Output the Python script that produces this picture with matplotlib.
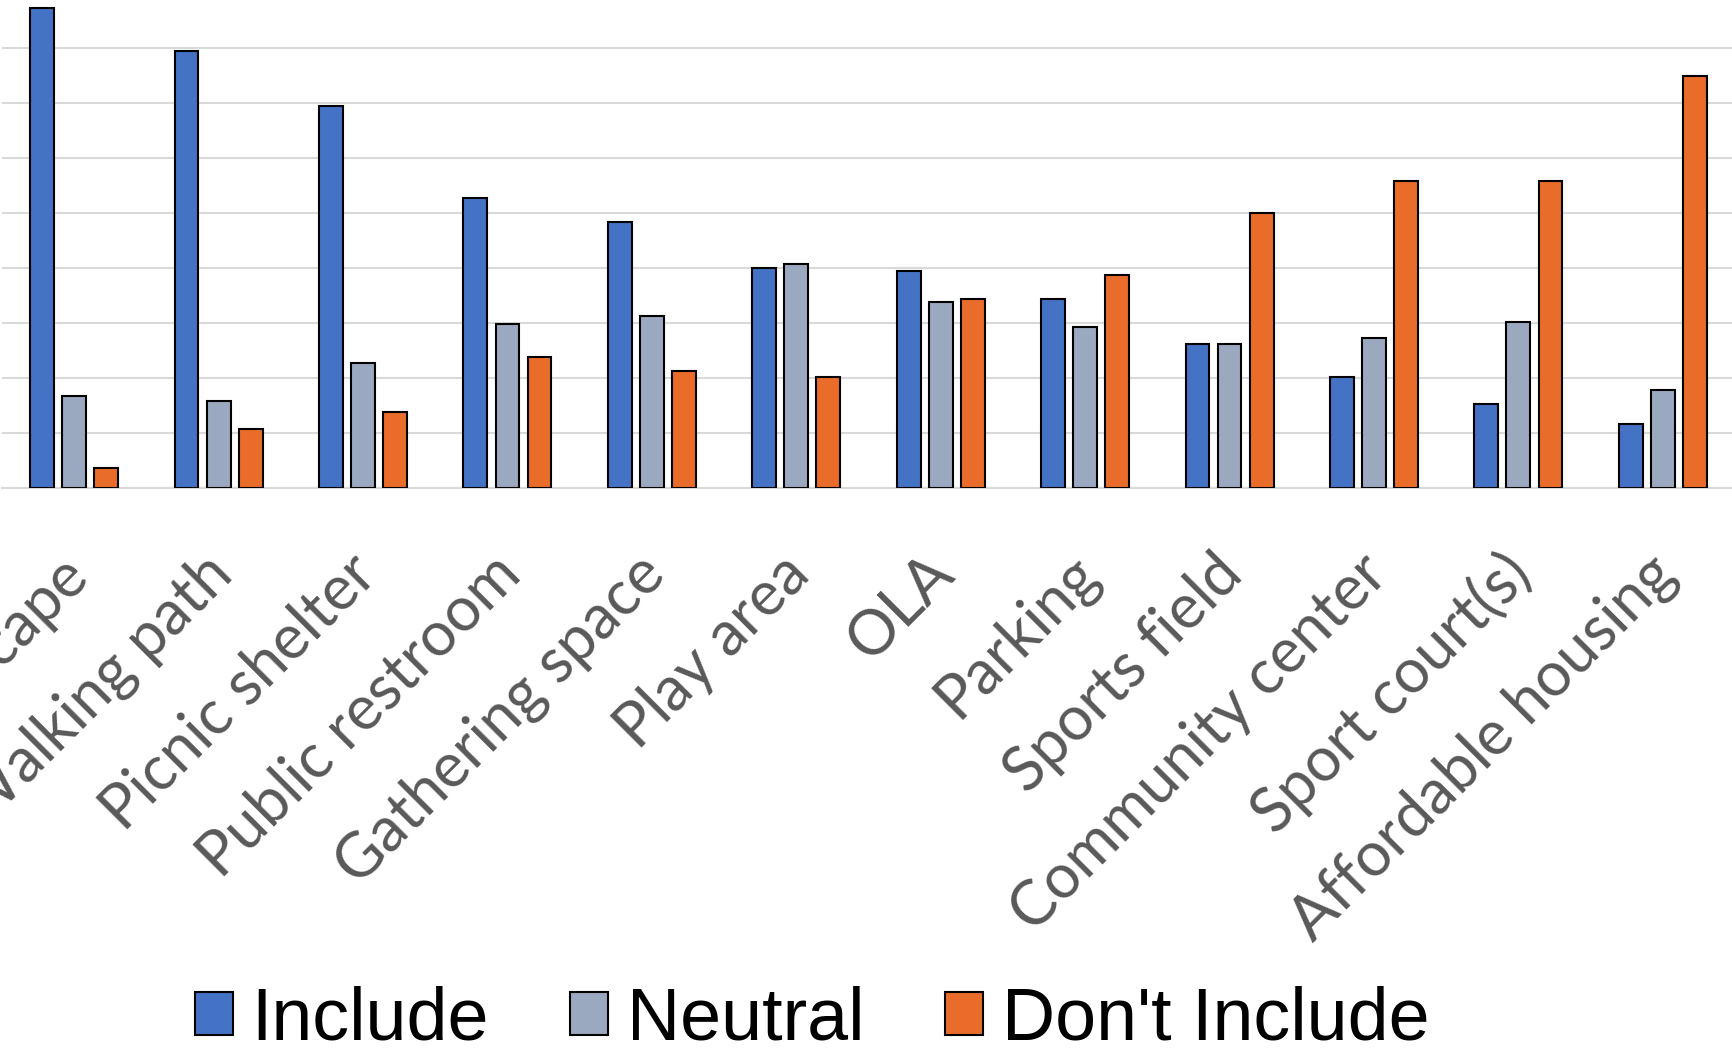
import matplotlib.pyplot as plt
import numpy as np
from matplotlib.transforms import ScaledTranslation
from matplotlib.patches import Patch

categories = ["Landscape", "Walking path", "Picnic shelter", "Public restroom",
              "Gathering space", "Play area", "OLA", "Parking", "Sports field",
              "Community center", "Sport court(s)", "Affordable housing"]
include = [43.6, 39.7, 34.7, 26.4, 24.2, 20.0, 19.7, 17.2, 13.1, 10.1, 7.6, 5.8]
neutral = [8.4, 7.9, 11.4, 14.9, 15.6, 20.4, 16.9, 14.6, 13.1, 13.6, 15.1, 8.9]
dont_include = [1.8, 5.4, 6.9, 11.9, 10.6, 10.1, 17.2, 19.4, 25.0, 27.9, 27.9, 37.5]

series = [("Include", include, "#4472C4"),
          ("Neutral", neutral, "#9BA9C0"),
          ("Don't Include", dont_include, "#EA6C2A")]

W, H = 1733, 1053
fig = plt.figure(figsize=(W / 100, H / 100), dpi=100)
ax = fig.add_axes([2 / W, 1 - 488 / H, 1733 / W, 488 / H])

x = np.arange(len(categories))
step = 0.222
for i, (name, vals, col) in enumerate(series):
    ax.bar(x + (i - 1) * step, vals, width=0.165, color=col,
           edgecolor="black", linewidth=1.5, zorder=3, label=name)

ax.set_xlim(-0.5, 11.5)
ax.set_ylim(0, 488 / 11)
ax.set_yticks(np.arange(0, 45, 5))
ax.yaxis.grid(True, color="#D9D9D9", linewidth=1.5, zorder=0)
ax.set_axisbelow(True)
for s in ["left", "right", "top"]:
    ax.spines[s].set_visible(False)
ax.spines["bottom"].set_color("#D9D9D9")
ax.spines["bottom"].set_linewidth(1.5)
ax.tick_params(axis="y", left=False, labelleft=False)
ax.tick_params(axis="x", length=0, pad=64)

ax.set_xticks(x)
ax.set_xticklabels(categories, rotation=45, ha="right", va="baseline",
                   rotation_mode="anchor", fontsize=44.5, color="#595959",
                   family="Lato")
shift = ScaledTranslation(16 / 100, 0, fig.dpi_scale_trans)
for lab in ax.get_xticklabels():
    lab.set_transform(lab.get_transform() + shift)

handles = [Patch(facecolor=c, edgecolor="black", linewidth=1.5, label=n)
           for n, _, c in series]
fig.legend(handles=handles, loc="center", bbox_to_anchor=(812 / W, 1 - 1020 / H),
           ncol=3, frameon=False, prop={"family": "Liberation Sans", "size": 53},
           handlelength=0.52, handleheight=0.52, handletextpad=0.25,
           columnspacing=1.1, borderaxespad=0)

fig.savefig("out.png", dpi=100)
